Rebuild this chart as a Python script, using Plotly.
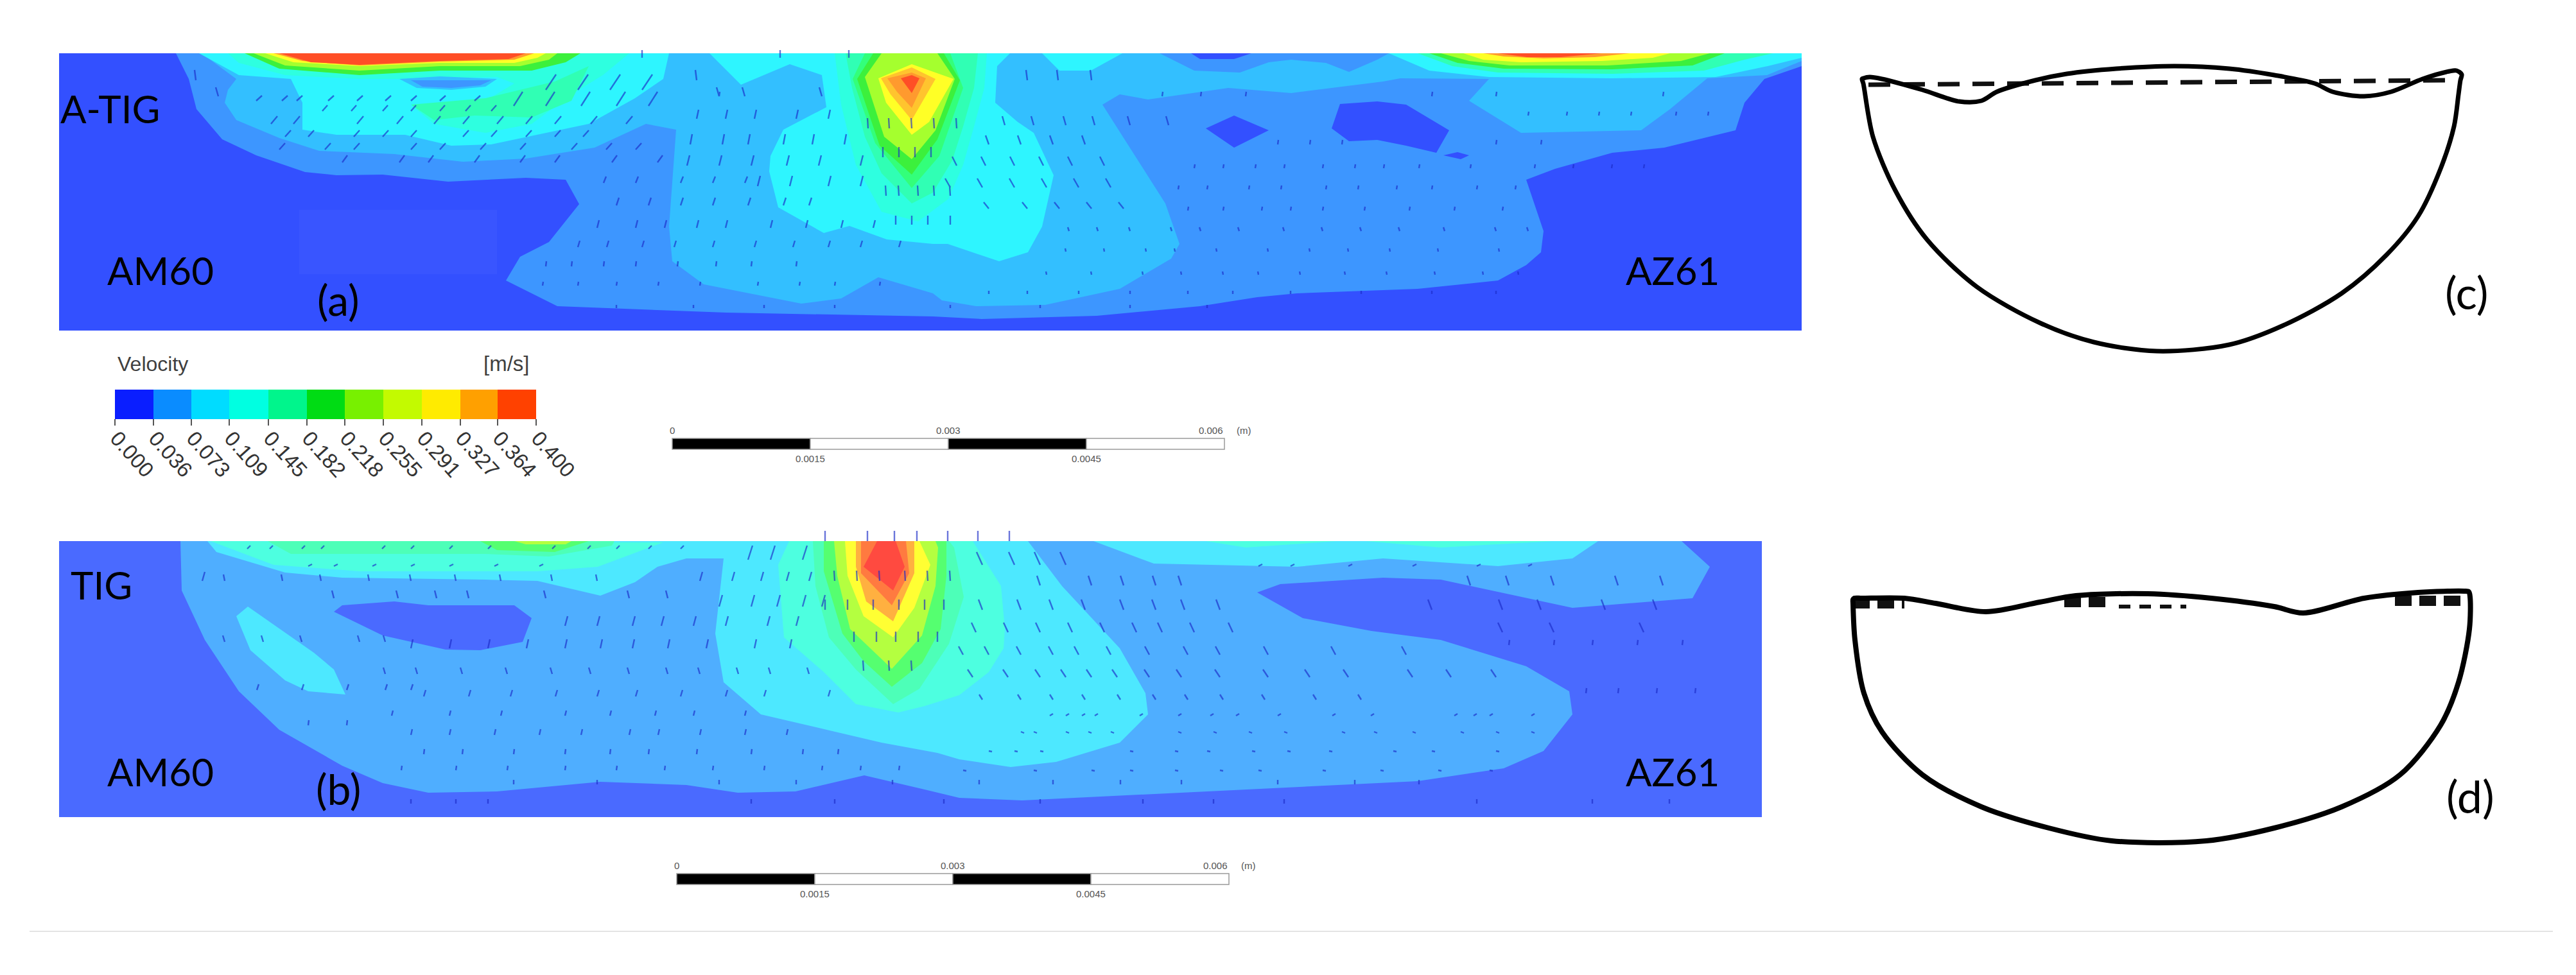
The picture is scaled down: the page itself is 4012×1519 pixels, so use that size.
import plotly.graph_objects as go

# Colour key
velocity_ticks = ["0.000", "0.036", "0.073", "0.109", "0.145", "0.182", "0.218", "0.255", "0.291", "0.327", "0.364", "0.400"]
velocity_tick_x = [179, 239, 298, 357, 418, 478, 537, 597, 657, 717, 775, 835]
velocity_colors = ["#0A1EFF", "#0A8CFF", "#00DCFF", "#00FFE1", "#00F58C", "#00DC14", "#78F000", "#C3FA00", "#FFEB00", "#FFA000", "#FF4100"]

# Panel (a) A-TIG contour outlines, picture pixels
a_level1 = [(274, 83), (294, 123), (306, 170), (346, 217), (399, 242), (475, 268), (524, 273), (596, 272), (698, 283), (819, 277), (881, 280), (902, 318), (855, 377), (810, 400), (788, 437), (868, 477), (1131, 487), (1453, 493), (1529, 497), (1708, 492), (1869, 477), (1958, 463), (2020, 457), (2208, 450), (2333, 437), (2377, 413), (2400, 393), (2404, 360), (2377, 280), (2422, 263), (2511, 238), (2592, 230), (2703, 203), (2717, 160), (2748, 123), (2806, 103), (2806, 83)]
a_hole1 = [(1922, 180), (1976, 203), (1922, 230), (1878, 200)]
a_hole2 = [(2087, 162), (2145, 158), (2190, 163), (2257, 203), (2237, 238), (2190, 227), (2145, 218), (2101, 220), (2074, 200)]
a_hole3 = [(2248, 242), (2270, 237), (2288, 242), (2275, 248)]
a_level2 = [(314, 83), (368, 123), (355, 140), (350, 160), (368, 187), (435, 215), (497, 235), (614, 240), (721, 252), (819, 247), (926, 230), (1006, 193), (1053, 202), (1042, 353), (1047, 407), (1096, 443), (1248, 473), (1310, 465), (1368, 432), (1453, 457), (1467, 468), (1520, 477), (1628, 475), (1744, 450), (1824, 403), (1837, 380), (1815, 317), (1779, 260), (1717, 163), (1744, 147), (1788, 155), (1913, 137), (2011, 145), (2154, 127), (2181, 122), (2319, 123), (2288, 157), (2369, 207), (2556, 203), (2601, 170), (2659, 122), (2752, 117), (2806, 95), (2806, 83)]
a_patch_top = [(1806, 83), (1860, 110), (1931, 113), (1976, 97), (2011, 93), (2065, 98), (2101, 112), (2145, 93), (2163, 83)]
a_spot_top = [(1855, 83), (1869, 92), (1922, 92), (1949, 83)]
a_cyan_left = [(310, 83), (372, 117), (453, 123), (471, 160), (471, 202), (524, 210), (631, 210), (703, 227), (765, 225), (837, 210), (917, 193), (989, 153), (1033, 123), (1042, 83)]
a_cyan_mid = [(1105, 83), (1154, 132), (1230, 100), (1280, 117), (1287, 167), (1220, 202), (1200, 243), (1198, 267), (1212, 323), (1283, 363), (1323, 352), (1381, 373), (1453, 380), (1476, 380), (1556, 407), (1601, 393), (1623, 353), (1641, 273), (1610, 207), (1585, 190), (1550, 160), (1553, 103), (1573, 83)]
a_cyan_patch = [(1623, 83), (1650, 110), (1699, 110), (1748, 83)]
a_spot_mid = [(622, 123), (685, 119), (774, 123), (756, 135), (703, 140), (649, 137)]
a_spot_core = [(640, 125), (765, 125), (748, 133), (703, 137), (658, 135)]
a_left_teal = [(355, 83), (372, 98), (444, 117), (560, 123), (614, 123), (774, 120), (801, 130), (756, 157), (640, 163), (676, 193), (756, 207), (828, 193), (890, 147), (939, 117), (980, 83)]
a_left_mint = [(640, 163), (756, 153), (864, 127), (917, 103), (890, 157), (828, 183), (739, 180), (676, 187)]
a_left_green = [(381, 83), (435, 107), (560, 117), (685, 110), (828, 110), (881, 97), (904, 83)]
a_left_lime = [(395, 83), (444, 102), (560, 110), (685, 103), (810, 103), (855, 93), (868, 83)]
a_left_yellow = [(413, 83), (457, 97), (560, 103), (685, 98), (801, 98), (837, 90), (850, 83)]
a_left_orange = [(426, 83), (471, 95), (560, 102), (685, 96), (801, 93), (832, 83)]
a_left_red = [(435, 83), (484, 97), (560, 101), (685, 95), (792, 92), (819, 83)]
a_right_cyan = [(2163, 83), (2226, 110), (2319, 120), (2511, 122), (2672, 120), (2753, 103), (2806, 90), (2806, 83)]
a_right_teal = [(2208, 83), (2262, 103), (2333, 113), (2511, 115), (2654, 110), (2717, 93), (2761, 83)]
a_right_green = [(2226, 83), (2270, 98), (2342, 107), (2511, 108), (2636, 102), (2686, 83)]
a_right_lime = [(2244, 83), (2288, 95), (2351, 102), (2503, 102), (2618, 95), (2663, 83)]
a_right_yellow = [(2279, 83), (2310, 93), (2369, 97), (2494, 95), (2574, 90), (2601, 83)]
a_right_orange = [(2310, 83), (2342, 88), (2404, 91), (2484, 89), (2538, 83)]
a_right_red = [(2333, 83), (2378, 89), (2431, 89), (2494, 83)]
a_core_teal = [(1300, 83), (1310, 163), (1333, 257), (1373, 330), (1430, 345), (1477, 310), (1500, 257), (1517, 197), (1533, 137), (1537, 83)]
a_core_mint = [(1317, 83), (1327, 137), (1347, 213), (1373, 270), (1420, 317), (1453, 300), (1483, 250), (1500, 197), (1517, 137), (1523, 83)]
a_core_spring = [(1347, 83), (1328, 123), (1363, 223), (1420, 293), (1463, 243), (1500, 137), (1480, 83)]
a_core_green = [(1360, 83), (1335, 123), (1370, 227), (1420, 272), (1460, 217), (1495, 125), (1470, 83)]
a_core_lime = [(1373, 83), (1347, 120), (1377, 213), (1420, 248), (1457, 203), (1487, 123), (1460, 83)]
a_core_yellow = [(1368, 122), (1420, 100), (1485, 123), (1447, 190), (1420, 210), (1380, 160)]
a_core_amber = [(1372, 122), (1420, 105), (1457, 123), (1420, 187), (1387, 147)]
a_core_orange = [(1382, 122), (1420, 113), (1442, 122), (1420, 168), (1397, 143)]
a_core_red = [(1403, 122), (1420, 117), (1432, 122), (1420, 145)]
a_faint_patch = [(466, 327), (774, 327), (774, 427), (466, 427)]

# Panel (b) TIG contour outlines
b_level1 = [(281, 843), (283, 920), (319, 997), (372, 1077), (435, 1137), (533, 1193), (596, 1220), (667, 1235), (774, 1233), (935, 1218), (1069, 1223), (1149, 1235), (1239, 1233), (1346, 1208), (1440, 1230), (1494, 1243), (1592, 1247), (1797, 1237), (1994, 1228), (2208, 1217), (2342, 1197), (2404, 1170), (2449, 1113), (2444, 1077), (2377, 1038), (2244, 997), (2136, 983), (2029, 963), (1958, 923), (1994, 910), (2154, 900), (2244, 903), (2449, 947), (2636, 932), (2663, 883), (2619, 843)]
b_hole = [(520, 953), (533, 943), (614, 937), (667, 943), (801, 943), (828, 963), (814, 1000), (748, 1013), (694, 1012), (596, 990)]
b_cyan = [(323, 843), (337, 860), (444, 892), (533, 900), (756, 903), (837, 905), (935, 928), (989, 907), (1024, 883), (1069, 870), (1127, 870), (1114, 987), (1127, 1063), (1185, 1113), (1292, 1138), (1373, 1157), (1460, 1173), (1494, 1183), (1574, 1195), (1645, 1187), (1744, 1157), (1788, 1113), (1784, 1080), (1744, 1010), (1654, 913), (1601, 843)]
b_streak = [(386, 945), (368, 960), (390, 1013), (444, 1060), (480, 1077), (538, 1082), (520, 1043), (489, 1017)]
b_cyan_right = [(1703, 843), (1797, 878), (1886, 880), (2020, 883), (2154, 870), (2333, 882), (2449, 870), (2489, 843)]
b_teal_right1 = [(1878, 843), (1940, 853), (2083, 843)]
b_teal_right2 = [(2127, 843), (2244, 853), (2420, 843)]
b_left_teal = [(328, 843), (426, 880), (560, 890), (837, 890), (931, 883), (1033, 845)]
b_left_mint = [(417, 843), (453, 863), (756, 863), (855, 867), (953, 850), (957, 843)]
b_left_green = [(748, 843), (774, 857), (864, 860), (917, 843)]
b_left_lime = [(801, 843), (819, 848), (881, 848), (890, 843)]
b_core_teal = [(1229, 843), (1212, 880), (1221, 993), (1283, 1047), (1333, 1097), (1399, 1110), (1440, 1100), (1494, 1083), (1540, 1047), (1563, 1010), (1565, 980), (1559, 913), (1515, 843)]
b_core_mint = [(1266, 843), (1270, 913), (1291, 993), (1333, 1043), (1391, 1097), (1432, 1073), (1478, 1003), (1501, 930), (1486, 853), (1478, 843)]
b_core_green = [(1283, 843), (1283, 890), (1312, 987), (1345, 1030), (1389, 1070), (1436, 1033), (1465, 980), (1474, 897), (1474, 843)]
b_core_lime = [(1299, 843), (1304, 897), (1324, 980), (1389, 1042), (1436, 990), (1457, 913), (1461, 853), (1457, 843)]
b_core_yellow = [(1316, 843), (1320, 897), (1345, 960), (1391, 993), (1424, 947), (1449, 880), (1432, 843)]
b_core_amber = [(1333, 843), (1333, 883), (1349, 937), (1391, 968), (1424, 893), (1424, 843)]
b_core_orange = [(1341, 843), (1341, 893), (1389, 943), (1416, 893), (1411, 843)]
b_core_red = [(1366, 843), (1345, 883), (1391, 920), (1409, 883), (1395, 843)]

# Velocity vectors: (y, dx, dy, x positions)
a_vectors = [
    (125, -2, -16, [305, 1085, 1600, 1648, 1700]), (140, 16, -24, [850, 900, 950, 1000]), (150, -4, -14, [340, 1120, 1160, 1280]),
    (157, 9, -8, [399, 439, 462, 511, 556, 600, 640, 685, 739]), (165, 14, -22, [800, 850, 905, 960, 1010]), (173, 8, -9, [502, 547, 596, 640, 685, 725, 765]),
    (185, 3, -14, [1085, 1130, 1175, 1240, 1290]), (193, 10, -12, [422, 457, 556, 618, 676, 721, 774, 819, 864, 920, 975]), (195, -4, -14, [1565, 1610, 1660, 1705, 1760, 1820]),
    (213, 9, -10, [444, 480, 551, 596, 640, 721, 765, 819, 864, 908]), (225, 3, -16, [1075, 1125, 1165, 1220, 1265, 1315]), (225, -5, -14, [1540, 1590, 1640, 1690]),
    (233, 9, -10, [435, 506, 551, 640, 685, 748, 810, 890, 944, 990]), (253, 8, -11, [533, 622, 667, 739, 810, 864, 953, 1024]), (258, 4, -16, [1070, 1120, 1170, 1225, 1275, 1340]),
    (258, -7, -14, [1490, 1535, 1580, 1625, 1670, 1720]), (262, 1, -6, [1860, 1905, 1955, 2000, 2060, 2110, 2155, 2210, 2290, 2390, 2450, 2510, 2560]), (285, 4, -10, [940, 990, 1060, 1110, 1160]),
    (290, 4, -16, [1180, 1230, 1290, 1340]), (292, -8, -14, [1480, 1530, 1580, 1630, 1680, 1730]), (295, 1, -6, [1835, 1880, 1945, 1995, 2065, 2115, 2175, 2230, 2300, 2360]),
    (320, 4, -12, [960, 1010, 1060, 1110, 1165, 1220, 1260]), (325, -8, -10, [1540, 1600, 1650, 1700, 1750]), (328, 1, -6, [1850, 1905, 1965, 2010, 2060, 2125, 2195, 2265, 2340]),
    (355, 3, -12, [930, 990, 1035, 1085, 1130, 1200, 1255, 1310, 1360]), (360, -2, -6, [1665, 1710, 1760, 1825, 1870, 1930, 2000, 2060, 2120, 2180, 2250, 2330, 2380]),
    (385, 3, -10, [900, 945, 1000, 1050, 1110, 1175, 1235, 1290, 1340, 1400]), (392, -1, -5, [1660, 1720, 1785, 1830, 1895, 1975, 2040, 2100, 2165, 2240, 2335]), (415, 1, -8, [850, 890, 940, 990, 1055, 1115, 1170, 1240]),
    (428, -1, -5, [1630, 1700, 1780, 1840, 1905, 1960, 2025, 2095, 2160, 2235, 2310, 2365]), (445, 1, -6, [845, 900, 960, 1025, 1090, 1180, 1245, 1300, 1370]), (458, 0, -5, [1540, 1600, 1680, 1760, 1850, 1920, 2010, 2120, 2230, 2330]), (480, 0, -5, [960, 1080, 1190, 1300, 1480, 1620, 1760, 1880]),
    (200, -1, -16, [1352, 1385, 1420, 1455, 1490]), (245, 0, -16, [1375, 1400, 1425, 1450]), (305, -1, -16, [1380, 1400, 1430, 1455, 1480]), (350, 0, -14, [1395, 1420, 1445, 1480]),
    (78, 0, 12, [1000, 1215, 1322]), (225, 1, -7, [1990, 2040, 2090, 2330, 2400]), (180, 1, -6, [2380, 2440, 2490, 2540, 2610, 2660]), (150, 1, -7, [1120, 1810, 1870, 1940, 2230, 2330, 2590]),
]
b_vectors = [
    (843, 0, -16, [1285, 1351, 1393, 1428, 1476, 1523, 1572]), (855, 5, -5, [385, 420, 470, 500, 595, 640, 700, 760, 860, 915, 960, 1010, 1060]), (872, 7, -22, [1165, 1200, 1250]),
    (880, -9, -20, [1530, 1580, 1620, 1660]), (882, 6, -3, [480, 520, 580, 640, 700, 770, 840, 1960, 2010, 2100, 2200, 2300, 2380]), (905, 4, -14, [315, 1090, 1140, 1185, 1225, 1260]),
    (912, -5, -15, [1620, 1700, 1750, 1800, 1840, 2290, 2350, 2420, 2520, 2590]), (932, -3, -12, [520, 620, 680, 730, 850, 980, 1040]), (945, 5, -18, [1120, 1170, 1210, 1250, 1280]),
    (950, -6, -16, [1530, 1590, 1640, 1690, 1750, 1800, 1845, 1900, 2230, 2340, 2400, 2500, 2580]), (975, 4, -15, [880, 930, 985, 1030, 1080, 1130, 1195, 1240]), (985, -7, -15, [1520, 1570, 1620, 1670, 1720, 1770, 1810, 1860, 1920, 2340, 2420, 2560]),
    (1010, 3, -14, [640, 700, 760, 820, 880, 935, 985, 1040, 1100, 1175, 1230]), (1020, -7, -13, [1500, 1540, 1590, 1640, 1680, 1730, 1790, 1850, 1900, 1975, 2080, 2190]), (1050, -3, -10, [600, 650, 720, 790, 860, 920, 980, 1040, 1090, 1150, 1200, 1260]),
    (1055, -8, -12, [1515, 1570, 1620, 1660, 1700, 1740, 1790, 1840, 1900, 1975, 2040, 2100, 2200, 2260, 2330]), (1085, 3, -10, [660, 730, 795, 865, 930, 990, 1060, 1130, 1190, 1290]), (1090, -5, -8, [1530, 1590, 1640, 1690, 1745, 1800, 1850, 1905, 1970, 2050, 2120]),
    (1115, 2, -8, [610, 700, 780, 880, 950, 1020, 1080, 1160]), (1112, -5, 3, [1640, 1665, 1690, 1710, 1780, 1840, 1890, 1930, 1995, 2080, 2140, 2270, 2300, 2325, 2390]), (1145, 2, -9, [640, 700, 770, 840, 905, 980, 1025, 1090, 1160, 1225]),
    (1140, 5, 2, [1590, 1610, 1660, 1695, 1730, 1835, 1890, 1945, 2000, 2090, 2140, 2200, 2275, 2330, 2385]), (1175, 1, -8, [660, 720, 800, 880, 950, 1010, 1085, 1170, 1250, 1305]), (1170, 5, 1, [1540, 1580, 1620, 1760, 1830, 1880, 1950, 2005, 2070, 2170, 2230, 2330]),
    (1200, 1, -7, [625, 710, 790, 880, 960, 1035, 1110, 1190, 1280, 1340, 1400]), (1200, 5, 1, [1500, 1610, 1700, 1760, 1830, 1900, 1960, 2060, 2150, 2240, 2320]), (1222, 0, -7, [800, 930, 1120, 1240, 1390, 1525, 1640, 1745, 1840, 1990, 2110, 2210]), (1252, 0, -7, [640, 710, 760, 1170, 1300, 1470, 1620, 1780, 1890, 2000, 2300, 2480, 2600]),
    (905, -1, -16, [1300, 1335, 1370, 1410, 1445, 1480]), (950, 0, -16, [1285, 1320, 1360, 1400, 1440, 1470]), (1000, 0, -16, [1330, 1365, 1395, 1430, 1460]), (1045, -1, -16, [1345, 1385, 1420]),
    (905, -2, -10, [350, 440, 500, 575, 640, 710, 780, 860, 930]), (1075, 3, -9, [400, 470, 540, 600, 640]), (1000, -3, -10, [350, 410, 470, 560, 600]), (1130, 1, -8, [480, 540]), (1005, 1, -8, [2350, 2420, 2480, 2550, 2620]), (1080, 1, -8, [2470, 2520, 2580, 2640]),
]

# Weld cross sections (c) and (d); doubled points keep the corners sharp under the spline
c_outline = [(2900, 123), (2902, 122), (2912, 120), (2931, 123), (2994, 140), (3051, 158), (3086, 157), (3110, 143), (3170, 125), (3219, 115), (3296, 107), (3387, 103), (3472, 107), (3542, 117), (3605, 130), (3633, 143), (3682, 150), (3724, 143), (3773, 123), (3815, 111), (3826, 110), (3834, 116), (3832, 125), (3829, 147), (3822, 197), (3801, 263), (3766, 337), (3717, 397), (3647, 457), (3556, 507), (3472, 537), (3359, 547), (3261, 533), (3177, 503), (3079, 447), (3001, 373), (2952, 297), (2917, 213), (2902, 130), (2900, 123)]
c_surface = [[(2910, 132), (3822, 125)]]
d_outline = [(2886, 934), (2888, 932), (2900, 932), (2966, 932), (3015, 940), (3093, 953), (3177, 938), (3233, 928), (3345, 925), (3444, 932), (3542, 945), (3587, 955), (3682, 932), (3766, 923), (3838, 921), (3845, 922), (3847, 930), (3846, 980), (3829, 1063), (3801, 1130), (3738, 1207), (3647, 1257), (3542, 1290), (3436, 1310), (3289, 1310), (3191, 1290), (3086, 1257), (2994, 1207), (2931, 1140), (2903, 1080), (2889, 997), (2886, 940), (2886, 934)]
d_surface = [[(2886, 940), (2966, 940)], [(3215, 938), (3290, 938)], [(3730, 936), (3847, 936)]]
d_middle_dashes = [[(3300, 945), (3405, 945)]]

scale_marks = [0, 0.0015, 0.003, 0.0045, 0.006]
scale_labels = ["0", "0.0015", "0.003", "0.0045", "0.006"]

AXIS_W, AXIS_H = 4012, 1519
A_BOX = (92, 83, 2806, 515)
B_BOX = (92, 843, 2744, 1273)
A = dict(bg="#3350FF", l1="#3D96FF", l2="#33BFFF", cyan="#2EF5FF", teal="#2EFFE0", mint="#30FFB4", spring="#33FF7A",
         green="#3CF03C", lime="#A5FF2E", yellow="#FFFF26", amber="#FFC42E", orange="#FF9A2E", red="#FF4E26")
B = dict(bg="#4A6AFF", l1="#4FAEFF", l2="#4DE8FF", teal="#4DFFE0", mint="#4DFFB8", spring="#55FF70",
         lime="#B4FF40", yellow="#FFFF33", amber="#FFB040", orange="#FF7A40", red="#FF4A40")


def box_outline(box):
    x0, y0, x1, y1 = box
    return [(x0, y0), (x1, y0), (x1, y1), (x0, y1)]


fig = go.Figure()


def add_band(outline, color):
    fig.add_trace(go.Scatter(
        x=[p[0] for p in outline] + [outline[0][0]],
        y=[p[1] for p in outline] + [outline[0][1]],
        mode="lines", fill="toself", fillcolor=color, line=dict(width=0, color=color),
        hoverinfo="skip", showlegend=False,
    ))


def add_vectors(rows, color):
    xs, ys = [], []
    for y, dx, dy, row_x in rows:
        for x in row_x:
            xs += [x, x + dx, None]
            ys += [y, y + dy, None]
    fig.add_trace(go.Scatter(x=xs, y=ys, mode="lines", line=dict(color=color, width=2.4),
                             opacity=0.65, hoverinfo="skip", showlegend=False))


def add_dashes(segments, dash, width):
    xs, ys = [], []
    for segment in segments:
        xs += [p[0] for p in segment] + [None]
        ys += [p[1] for p in segment] + [None]
    fig.add_trace(go.Scatter(x=xs, y=ys, mode="lines", line=dict(color="#111111", width=width, dash=dash),
                             hoverinfo="skip", showlegend=False))


def add_outline(outline, width):
    fig.add_trace(go.Scatter(x=[p[0] for p in outline], y=[p[1] for p in outline], mode="lines",
                             line=dict(color="#000000", width=width, shape="spline", smoothing=0.9),
                             hoverinfo="skip", showlegend=False))


def label(x, y, text, size, color="#000000", family="Lato", angle=0):
    fig.add_annotation(x=x, y=y, xref="x", yref="y", text=text, showarrow=False, textangle=angle,
                       font=dict(family=family, size=size, color=color), xanchor="center", yanchor="middle")


def add_scale(x0, y0):
    # x0, y0 are the top left corner of the bar
    px_per_m = 860 / scale_marks[-1]
    for i in range(4):
        left = x0 + scale_marks[i] * px_per_m
        right = x0 + scale_marks[i + 1] * px_per_m
        fig.add_shape(type="rect", x0=left, x1=right, y0=y0, y1=y0 + 17, xref="x", yref="y",
                      fillcolor="#000000" if i % 2 == 0 else "#FFFFFF", line=dict(color="#9A9A9A", width=1.5))
    for i, (mark, text) in enumerate(zip(scale_marks, scale_labels)):
        x = x0 + mark * px_per_m
        y = y0 + 31 if i % 2 else y0 - 13
        label(x - 21 if i == 4 else x, y, text, 15, "#555555", "Liberation Sans")
    label(x0 + 890, y0 - 13, "(m)", 15, "#555555", "Liberation Sans")


# Panel (a)
add_band(box_outline(A_BOX), A["bg"])
add_band(a_faint_patch, "#3955FF")
add_band(a_level1, A["l1"])
for outline in [a_hole1, a_hole2, a_hole3]:
    add_band(outline, A["bg"])
add_band(a_level2, A["l2"])
add_band(a_patch_top, A["l1"])
add_band(a_spot_top, A["bg"])
for outline in [a_cyan_left, a_cyan_mid, a_cyan_patch]:
    add_band(outline, A["cyan"])
for outline, key in [(a_left_teal, "teal"), (a_left_mint, "mint"), (a_spot_mid, "l2"), (a_spot_core, "l1"),
                     (a_left_green, "green"), (a_left_lime, "lime"), (a_left_yellow, "yellow"),
                     (a_left_orange, "orange"), (a_left_red, "red"),
                     (a_right_cyan, "cyan"), (a_right_teal, "mint"), (a_right_green, "green"), (a_right_lime, "lime"),
                     (a_right_yellow, "yellow"), (a_right_orange, "orange"), (a_right_red, "red"),
                     (a_core_teal, "teal"), (a_core_mint, "mint"), (a_core_spring, "spring"), (a_core_green, "green"),
                     (a_core_lime, "lime"), (a_core_yellow, "yellow"), (a_core_amber, "amber"),
                     (a_core_orange, "orange"), (a_core_red, "red")]:
    add_band(outline, A[key])
add_vectors(a_vectors, "#1C2CC8")

# Panel (b)
add_band(box_outline(B_BOX), B["bg"])
add_band(b_level1, B["l1"])
add_band(b_hole, B["bg"])
for outline in [b_cyan, b_streak, b_cyan_right]:
    add_band(outline, B["l2"])
for outline, key in [(b_teal_right1, "teal"), (b_teal_right2, "teal"), (b_left_teal, "teal"), (b_left_mint, "mint"),
                     (b_left_green, "spring"), (b_left_lime, "lime"),
                     (b_core_teal, "teal"), (b_core_mint, "mint"), (b_core_green, "spring"), (b_core_lime, "lime"),
                     (b_core_yellow, "yellow"), (b_core_amber, "amber"), (b_core_orange, "orange"), (b_core_red, "red")]:
    add_band(outline, B[key])
add_vectors(b_vectors, "#1C2CC8")

# Colour key
fig.add_trace(go.Heatmap(
    x=velocity_tick_x, y=[607, 653], z=[list(range(len(velocity_colors)))],
    zmin=0, zmax=len(velocity_colors) - 1, showscale=False, hoverinfo="skip",
    colorscale=[[i / (len(velocity_colors) - 1), c] for i, c in enumerate(velocity_colors)],
))
tick_xs, tick_ys = [], []
for x in velocity_tick_x:
    tick_xs += [x, x, None]
    tick_ys += [653, 663, None]
fig.add_trace(go.Scatter(x=tick_xs, y=tick_ys, mode="lines", line=dict(color="#555555", width=2),
                         hoverinfo="skip", showlegend=False))
for x, text in zip(velocity_tick_x, velocity_ticks):
    label(x + 27, 707, text, 33, "#333333", "Liberation Sans", 48)
label(238, 567, "Velocity", 32, "#3F3F3F", "Liberation Sans")
label(789, 566, "[m/s]", 33, "#3F3F3F", "Liberation Sans")

add_scale(1047, 683)
add_scale(1054, 1361)

add_dashes(c_surface, "34px,20px", 7)
add_outline(c_outline, 7)
add_dashes(d_surface, "26px,12px", 16)
add_dashes(d_middle_dashes, "18px,14px", 6)
add_outline(d_outline, 8)

# Thin rule under the figure
fig.add_shape(type="line", x0=46, x1=3976, y0=1451, y1=1451, xref="x", yref="y", line=dict(color="#E4E4E4", width=2))

label(171, 169, "A-TIG", 60)
label(158, 911, "TIG", 60)
label(250, 421, "AM60", 60)
label(2605, 421, "AZ61", 60)
label(250, 1202, "AM60", 60)
label(2605, 1202, "AZ61", 60)
label(527, 466, "(a)", 66)
label(527, 1228, "(b)", 66)
label(3842, 455, "(c)", 70)
label(3847, 1240, "(d)", 70)

fig.update_xaxes(range=[0, AXIS_W], visible=False, fixedrange=True)
fig.update_yaxes(range=[AXIS_H, 0], visible=False, fixedrange=True)
fig.update_layout(
    width=AXIS_W, height=AXIS_H, margin=dict(l=0, r=0, t=0, b=0),
    paper_bgcolor="#FFFFFF", plot_bgcolor="#FFFFFF", showlegend=False,
)

fig.write_html("out.html", config=dict(displayModeBar=False), post_script="document.body.style.margin='0';")
